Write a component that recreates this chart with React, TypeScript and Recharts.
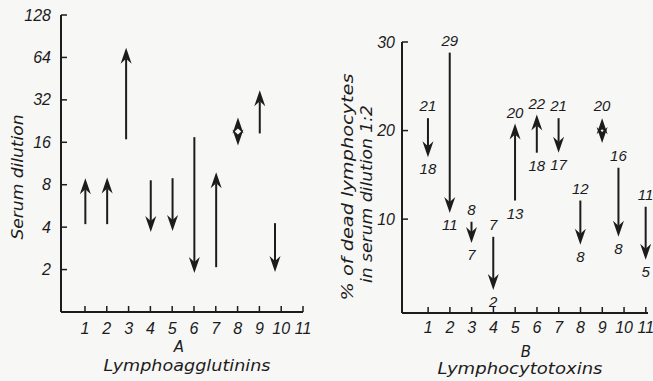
import React from "react";
import { ComposedChart, Bar, XAxis, YAxis, Label } from "recharts";

const ink = "#1c1c1c";
const paper = "#f7f7f6";
const numFont = "'Liberation Sans', Arial, sans-serif";
const titleFont = "'DejaVu Sans', 'Liberation Sans', sans-serif";

const xTicks = [1, 2, 3, 4, 5, 6, 7, 8, 9, 10, 11];

// A - lymphoagglutinins, serum dilution (log2)
const aPos = [1, 2, 2.87, 4, 5, 6, 7, 8, 9, 9.7];
const aFrom = [4.2, 4.2, 16.8, 8.6, 8.9, 17.4, 2.08, 15.2, 18.5, 4.27];
const aTo = [8.9, 9.0, 75, 3.7, 3.75, 1.89, 9.8, 24, 37.4, 1.92];
const aKind = ["up", "up", "up", "down", "down", "down", "up", "both", "up", "down"];
const aYTicks = [2, 4, 8, 16, 32, 64, 128];

// B - lymphocytotoxins, % dead lymphocytes in serum dilution 1:2
const bPos = [1, 2, 3, 4, 5, 6, 7, 8, 9, 9.75, 11];
const bFrom = [21.4, 28.8, 9.7, 8.0, 12.1, 17.5, 21.4, 12.1, 18.6, 15.8, 11.4];
const bTo = [17.0, 10.7, 7.3, 2.0, 20.8, 21.8, 17.5, 7.1, 21.4, 8.0, 5.4];
const bKind = ["down", "down", "down", "down", "up", "up", "down", "down", "both", "down", "down"];
const bFromLabel = ["21", "29", "8", "7", "13", "18", "21", "12", "20", "16", "11"];
const bToLabel = ["18", "11", "7", "2", "20", "22", "17", "8", "", "8", "5"];
const bYTicks = [10, 20, 30];

const aData = aPos.map((p, i) => ({
  pos: p,
  range: [Math.min(aFrom[i], aTo[i]), Math.max(aFrom[i], aTo[i])],
  kind: aKind[i],
}));

const bData = bPos.map((p, i) => ({
  pos: p,
  range: [Math.min(bFrom[i], bTo[i]), Math.max(bFrom[i], bTo[i])],
  kind: bKind[i],
  fromLabel: bFromLabel[i],
  toLabel: bToLabel[i],
}));

const HL = 16; // head length
const HW = 5.5; // half width
const HN = 11; // notch

function head(cx: number, tip: number, dir: number) {
  // dir -1: points up, +1: points down
  return `${cx},${tip} ${cx + HW},${tip - dir * HL} ${cx},${tip - dir * HN} ${cx - HW},${tip - dir * HL}`;
}

function numText(x: number, y: number, s: string, key: string) {
  return (
    <text key={key} x={x} y={y} dy="0.35em" textAnchor="middle" fontFamily={numFont}
      fontStyle="italic" fontSize={15} fill={ink}>
      {s}
    </text>
  );
}

function Arrow(props: any) {
  const { x, y, width, height, payload } = props;
  if (x == null || y == null || !payload) return null;
  const cx = x + width / 2;
  const top = Math.min(y, y + height);
  const bot = Math.max(y, y + height);
  const kind = payload.kind;
  const parts: any[] = [];
  if (kind === "up") {
    parts.push(<line key="l" x1={cx} x2={cx} y1={bot} y2={top + HN} stroke={ink} strokeWidth={2} />);
    parts.push(<polygon key="h" points={head(cx, top, -1)} fill={ink} />);
  } else if (kind === "down") {
    parts.push(<line key="l" x1={cx} x2={cx} y1={top} y2={bot - HN} stroke={ink} strokeWidth={2} />);
    parts.push(<polygon key="h" points={head(cx, bot, 1)} fill={ink} />);
  } else {
    parts.push(<polygon key="h1" points={head(cx, top, -1)} fill={ink} />);
    parts.push(<polygon key="h2" points={head(cx, bot, 1)} fill={ink} />);
  }
  if (payload.fromLabel) {
    if (kind === "up") {
      parts.push(numText(cx, bot + 13, payload.fromLabel, "f"));
      if (payload.toLabel) parts.push(numText(cx, top - 11, payload.toLabel, "t"));
    } else {
      parts.push(numText(cx, top - 12, payload.fromLabel, "f"));
      if (payload.toLabel) parts.push(numText(cx, bot + 12, payload.toLabel, "t"));
    }
  }
  return <g>{parts}</g>;
}

const makeXTick = (base: number) => (props: any) => {
  const { x, y, payload } = props;
  return (
    <g>
      <line x1={x} x2={x} y1={y} y2={y - 6} stroke={ink} strokeWidth={1.5} />
      <text x={x} y={y + base} textAnchor="middle" fontFamily={numFont} fontStyle="italic"
        fontSize={16} fill={ink}>
        {payload.value}
      </text>
    </g>
  );
};

const makeYTick = (gap: number) => (props: any) => {
  const { x, y, payload } = props;
  return (
    <g>
      <line x1={x} x2={x + 6} y1={y} y2={y} stroke={ink} strokeWidth={1.5} />
      <text x={x - gap} y={y} dy="0.35em" textAnchor="end" fontFamily={numFont}
        fontStyle="italic" fontSize={16} fill={ink}>
        {payload.value}
      </text>
    </g>
  );
};

const titleProps = {
  fontFamily: titleFont,
  fontStyle: "italic" as const,
  fontSize: 15,
  fill: ink,
  textAnchor: "middle" as const,
  lengthAdjust: "spacingAndGlyphs" as const,
};

function PanelA() {
  return (
    <ComposedChart width={330} height={381} data={aData}
      margin={{ top: 15, right: 27, bottom: 0, left: 0 }}>
      <XAxis dataKey="pos" type="number" domain={[-0.1, 11]} ticks={xTicks} interval={0}
        height={69} tickSize={0} tickMargin={0} tickLine={false}
        axisLine={{ stroke: ink, strokeWidth: 2 }} tick={makeXTick(22)}>
        <Label content={(p: any) => {
          const vb = p.viewBox || { x: 61, y: 312 };
          return (
            <g>
              <text {...titleProps} x={179} y={vb.y + 40}>A</text>
              <text {...titleProps} x={187} y={vb.y + 59} textLength={167}>Lymphoagglutinins</text>
            </g>
          );
        }} />
      </XAxis>
      <YAxis type="number" scale="log" domain={[1, 128]} ticks={aYTicks} interval={0}
        width={61} tickSize={0} tickMargin={0} tickLine={false}
        axisLine={{ stroke: ink, strokeWidth: 2 }} tick={makeYTick(10)}>
        <Label content={() => (
          <text {...titleProps} x={23} y={177} transform="rotate(-90, 23, 177)" textLength={125}>
            Serum dilution
          </text>
        )} />
      </YAxis>
      <Bar dataKey="range" barSize={4} shape={Arrow} isAnimationActive={false} />
    </ComposedChart>
  );
}

function PanelB() {
  return (
    <ComposedChart width={330} height={381} data={bData}
      margin={{ top: 42, right: 5, bottom: 0, left: 0 }}>
      <XAxis dataKey="pos" type="number" domain={[-0.2, 11.1]} ticks={xTicks} interval={0}
        height={68} tickSize={0} tickMargin={0} tickLine={false}
        axisLine={{ stroke: ink, strokeWidth: 2 }} tick={makeXTick(20)}>
        <Label content={(p: any) => {
          const vb = p.viewBox || { x: 79, y: 313 };
          return (
            <g>
              <text {...titleProps} x={203} y={vb.y + 44}>B</text>
              <text {...titleProps} x={197} y={vb.y + 61} textLength={165}>Lymphocytotoxins</text>
            </g>
          );
        }} />
      </XAxis>
      <YAxis type="number" domain={[-0.6, 30]} ticks={bYTicks} interval={0}
        width={79} tickSize={0} tickMargin={0} tickLine={false}
        axisLine={{ stroke: ink, strokeWidth: 2 }} tick={makeYTick(7)}>
        <Label content={() => (
          <g>
            <text {...titleProps} x={30} y={187} transform="rotate(-90, 30, 187)" textLength={227}>
              % of dead lymphocytes
            </text>
            <text {...titleProps} x={49} y={194} transform="rotate(-90, 49, 194)" textLength={178}>
              in serum dilution 1:2
            </text>
          </g>
        )} />
      </YAxis>
      <Bar dataKey="range" barSize={4} shape={Arrow} isAnimationActive={false} />
    </ComposedChart>
  );
}

export default function App() {
  return (
    <div style={{ position: "absolute", left: 0, top: 0, width: 653, height: 381, background: paper, overflow: "hidden" }}>
      <div style={{ position: "absolute", left: 0, top: 0 }}>
        <PanelA />
      </div>
      <div style={{ position: "absolute", left: 323, top: 0 }}>
        <PanelB />
      </div>
    </div>
  );
}
